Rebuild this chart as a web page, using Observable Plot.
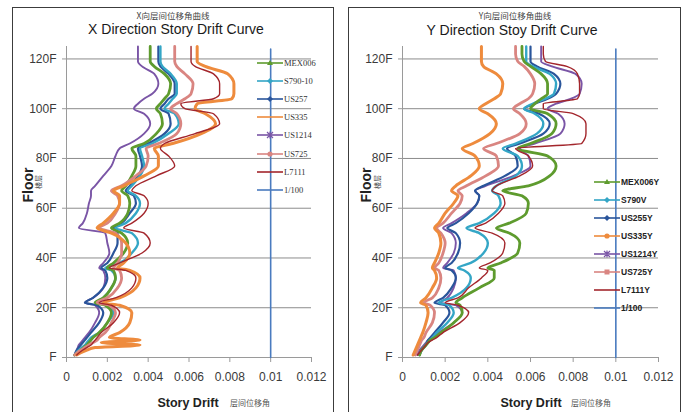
<!DOCTYPE html>
<html>
<head>
<meta charset="utf-8">
<script src="https://cdn.jsdelivr.net/npm/d3@7"></script>
<script src="https://cdn.jsdelivr.net/npm/@observablehq/plot@0.6"></script>
<style>
  body { margin: 0; background: #fff; }
  #root { position: relative; width: 686px; height: 412px; overflow: hidden; background: #fff;
          font-family: "Liberation Sans", Arial, sans-serif; color: #222; }
  .panel { position: absolute; top: 7px; height: 430px; border: 1.5px solid #3c3c3c; box-sizing: border-box; }
  .t { position: absolute; white-space: nowrap; line-height: 1; }
  .plotsvg { position: absolute; top: 0; }
</style>
</head>
<body>
<div id="root"></div>
<script>
// ---------------- data ----------------
const floors = [1,3,4,5,6,7,8,10,14,18,21,22,24,28,32,35,36,38,42,46,50,52,54,58,62,65,67,69,73,77,81,84,86,90,94,98,100,102,104,106,110,114,117,119,122,125];

const driftTicks = [0, 0.002, 0.004, 0.006, 0.008, 0.01, 0.012];
const driftTickLabels = ["0", "0.002", "0.004", "0.006", "0.008", "0.01", "0.012"];
const floorTicks = [0, 20, 40, 60, 80, 100, 120];
const floorTickLabels = ["F", "20F", "40F", "60F", "80F", "100F", "120F"];

const limitFloors = [0, 124];
const limitDrift = [0.01, 0.01];

// X direction
const xNames = ["MEX006", "S790-10", "US257", "US335", "US1214", "US725", "L7111"];
const xMEX006 = [0.0004,0.0007,0.00085,0.0010,0.0011,0.0012,0.0013,0.0016,0.0020,0.0022,0.0019,0.0014,0.0018,0.0022,0.0024,0.0023,0.0020,0.0023,0.0028,0.0030,0.0027,0.0022,0.0026,0.0030,0.0031,0.0030,0.0027,0.0029,0.0032,0.0034,0.0034,0.0032,0.0038,0.0044,0.0047,0.0046,0.0044,0.0046,0.0048,0.0050,0.0051,0.0048,0.0043,0.0041,0.0041,0.0041];
const xS79010 = [0.0004,0.0006,0.00075,0.0009,0.0010,0.0011,0.0012,0.0016,0.0020,0.0023,0.0020,0.0015,0.0018,0.0022,0.0024,0.0022,0.0019,0.0026,0.0032,0.0035,0.0032,0.0024,0.0029,0.0034,0.0036,0.0034,0.0030,0.0032,0.0036,0.0038,0.0037,0.0036,0.0042,0.0050,0.0055,0.0053,0.0048,0.0050,0.0052,0.0054,0.0054,0.0051,0.0047,0.0046,0.0046,0.0046];
const xUS257 = [0.0004,0.0005,0.0006,0.0007,0.0008,0.0009,0.0010,0.0012,0.0016,0.0018,0.0015,0.0009,0.0013,0.0018,0.0020,0.0019,0.0017,0.0020,0.0023,0.0025,0.0025,0.0023,0.0027,0.0031,0.0034,0.0033,0.0029,0.0031,0.0035,0.0037,0.0036,0.0035,0.0040,0.0048,0.0051,0.0050,0.0046,0.0048,0.0050,0.0053,0.0053,0.0050,0.0046,0.0045,0.0045,0.0045];
const xUS335 = [0.0005,0.0010,0.0014,0.0036,0.0017,0.0036,0.0021,0.0026,0.0031,0.0032,0.0026,0.0018,0.0026,0.0034,0.0036,0.0031,0.0025,0.0028,0.0031,0.0029,0.0022,0.0015,0.0018,0.0023,0.0026,0.0026,0.0023,0.0028,0.0038,0.0045,0.0045,0.0043,0.0052,0.0066,0.0073,0.0068,0.0063,0.0064,0.0081,0.0082,0.0082,0.0079,0.0068,0.0064,0.0064,0.0064];
const xUS1214 = [0.0004,0.0005,0.00055,0.0006,0.0007,0.0008,0.0009,0.0011,0.0014,0.0016,0.0014,0.0009,0.0013,0.0018,0.0019,0.0018,0.0016,0.0018,0.0021,0.0020,0.0019,0.0006,0.0008,0.0010,0.0011,0.0012,0.0012,0.0014,0.0018,0.0022,0.0024,0.0026,0.0031,0.0038,0.0041,0.0038,0.0033,0.0035,0.0038,0.0042,0.0045,0.0043,0.0037,0.0035,0.0035,0.0035];
const xUS725 = [0.0004,0.0007,0.0009,0.0011,0.0013,0.0015,0.0016,0.0019,0.0022,0.0024,0.0021,0.0015,0.0020,0.0025,0.0027,0.0026,0.0023,0.0025,0.0027,0.0027,0.0024,0.0016,0.0020,0.0024,0.0026,0.0025,0.0022,0.0027,0.0034,0.0039,0.0040,0.0039,0.0045,0.0054,0.0056,0.0054,0.0051,0.0054,0.0058,0.0061,0.0062,0.0058,0.0054,0.0053,0.0053,0.0053];
const xL7111 = [0.0005,0.0008,0.0010,0.0012,0.0013,0.0014,0.0015,0.0017,0.0023,0.0026,0.0022,0.0016,0.0024,0.0032,0.0034,0.0029,0.0021,0.0026,0.0037,0.0041,0.0038,0.0028,0.0032,0.0038,0.0040,0.0038,0.0032,0.0034,0.0044,0.0053,0.0050,0.0046,0.0048,0.0063,0.0075,0.0072,0.0058,0.0056,0.0072,0.0075,0.0075,0.0072,0.0063,0.0061,0.0061,0.0061];

// Y direction
const yNames = ["MEX006Y", "S790V", "US255Y", "US335Y", "US1214Y", "US725Y", "L7111Y"];
const yMEX006Y = [0.0008,0.0009,0.0010,0.0011,0.0012,0.0013,0.0015,0.0018,0.0024,0.0028,0.0027,0.0025,0.0028,0.0036,0.0043,0.0043,0.0040,0.0046,0.0054,0.0055,0.0050,0.0044,0.0050,0.0058,0.0059,0.0056,0.0047,0.0059,0.0069,0.0072,0.0068,0.0054,0.0060,0.0070,0.0072,0.0068,0.0060,0.0062,0.0065,0.0068,0.0068,0.0065,0.0060,0.0057,0.0056,0.0056];
const yS790V = [0.0008,0.0009,0.0010,0.0011,0.0012,0.0013,0.0014,0.0016,0.0021,0.0024,0.0022,0.0017,0.0023,0.0030,0.0032,0.0029,0.0026,0.0032,0.0038,0.0040,0.0036,0.0030,0.0036,0.0043,0.0046,0.0045,0.0042,0.0044,0.0053,0.0056,0.0054,0.0047,0.0053,0.0063,0.0066,0.0062,0.0057,0.0061,0.0067,0.0071,0.0072,0.0069,0.0061,0.0058,0.0058,0.0058];
const yUS255Y = [0.0008,0.0009,0.0010,0.0011,0.00115,0.0012,0.0013,0.0015,0.0019,0.0022,0.0020,0.0015,0.0019,0.0023,0.0025,0.0023,0.0020,0.0023,0.0026,0.0027,0.0025,0.0021,0.0025,0.0031,0.0035,0.0036,0.0034,0.0038,0.0048,0.0054,0.0053,0.0049,0.0055,0.0066,0.0069,0.0064,0.0057,0.0062,0.0068,0.0072,0.0074,0.0071,0.0063,0.0060,0.0060,0.0060];
const yUS335Y = [0.0005,0.0006,0.00065,0.0007,0.00075,0.0008,0.00085,0.00095,0.0011,0.0012,0.0011,0.00085,0.0011,0.0014,0.0016,0.0015,0.0014,0.0015,0.0017,0.0018,0.0017,0.0015,0.0017,0.0020,0.0024,0.0026,0.0023,0.0025,0.0032,0.0036,0.0034,0.0028,0.0033,0.0041,0.0044,0.0040,0.0036,0.0039,0.0043,0.0046,0.0047,0.0044,0.0038,0.0037,0.0037,0.0037];
const yUS1214Y = [0.0007,0.0008,0.0009,0.0010,0.0011,0.0012,0.0014,0.0017,0.0024,0.0028,0.0025,0.0018,0.0021,0.0024,0.0025,0.0024,0.0019,0.0021,0.0024,0.0025,0.0023,0.0019,0.0023,0.0030,0.0035,0.0036,0.0034,0.0039,0.0052,0.0060,0.0059,0.0055,0.0062,0.0074,0.0076,0.0073,0.0068,0.0072,0.0079,0.0083,0.0084,0.0081,0.0070,0.0065,0.0065,0.0065];
const yUS725Y = [0.0006,0.0007,0.00075,0.0008,0.00085,0.0009,0.0010,0.0011,0.0014,0.0015,0.0013,0.0010,0.0014,0.0017,0.0018,0.0017,0.0015,0.0017,0.0019,0.0020,0.0018,0.0016,0.0019,0.0023,0.0027,0.0028,0.0026,0.0030,0.0039,0.0045,0.0044,0.0038,0.0044,0.0055,0.0058,0.0055,0.0052,0.0055,0.0059,0.0061,0.0062,0.0060,0.0057,0.0054,0.0053,0.0053];
const yL7111Y = [0.0007,0.0009,0.0010,0.0011,0.0012,0.0014,0.0016,0.0019,0.0027,0.0031,0.0026,0.0020,0.0026,0.0031,0.0037,0.0040,0.0036,0.0041,0.0047,0.0048,0.0042,0.0034,0.0039,0.0045,0.0048,0.0047,0.0042,0.0044,0.0055,0.0061,0.0059,0.0053,0.0084,0.0086,0.0086,0.0080,0.0066,0.0066,0.0082,0.0083,0.0083,0.0082,0.0077,0.0067,0.0066,0.0066];

const xValues = [xMEX006, xS79010, xUS257, xUS335, xUS1214, xUS725, xL7111];
const yValues = [yMEX006Y, yS790V, yUS255Y, yUS335Y, yUS1214Y, yUS725Y, yL7111Y];
const limitName = "1/100";

// ---------------- styles ----------------
const seriesColors = ["#5e9b2e", "#34a6c6", "#2a559b", "#ee8b3d", "#7a55a6", "#d98581", "#a3262c"];
const seriesWidths = [2.8, 2.4, 2.2, 3.0, 1.9, 2.8, 1.4];
const limitColor = "#4a7bbf";
const drawOrder = [4, 2, 1, 0, 5, 3, 6];
const FONT = "'Liberation Sans', Arial, sans-serif";

const root = document.getElementById("root");

function rowsOf(name, values) {
  return floors.map((f, i) => ({ series: name, floor: f, drift: values[i] }));
}

function makePanel(values, names, left, marginLeft, marginRight) {
  const lines = drawOrder.map(k => Plot.line(rowsOf(names[k], values[k]), {
    x: "drift", y: "floor", stroke: seriesColors[k], strokeWidth: seriesWidths[k],
    curve: "monotone-y", strokeLinejoin: "round", strokeLinecap: "round"
  }));
  const limitRows = limitFloors.map((f, i) => ({ series: limitName, floor: f, drift: limitDrift[i] }));
  const svg = Plot.plot({
    width: 343, height: 412,
    marginLeft, marginRight, marginTop: 46, marginBottom: 55,
    x: { domain: [0, 0.012] },
    y: { domain: [0, 125] },
    style: { background: "transparent", fontFamily: FONT, fontSize: "12px", color: "#3a3a3a" },
    marks: [
      Plot.gridY(floorTicks.filter(d => d > 0), { stroke: "#8c8c8c", strokeOpacity: 1, strokeWidth: 1 }),
      Plot.ruleX([0], { stroke: "#9a9a9a" }),
      Plot.ruleY([0], { stroke: "#9a9a9a" }),
      Plot.axisY(floorTicks, { tickSize: 4, tickPadding: 6, label: null, stroke: "#9a9a9a",
        tickFormat: d => floorTickLabels[floorTicks.indexOf(d)] }),
      Plot.axisX(driftTicks, { tickSize: 5, tickPadding: 10, label: null, stroke: "#9a9a9a",
        tickFormat: d => driftTickLabels[driftTicks.indexOf(d)] }),
      ...lines,
      Plot.line(limitRows, { x: "drift", y: "floor", stroke: limitColor, strokeWidth: 1.6 })
    ]
  });
  svg.classList.add("plotsvg");
  svg.style.left = left + "px";
  return svg;
}

function addText(txt, x, y, css, rotate) {
  const d = document.createElement("div");
  d.className = "t";
  d.textContent = txt;
  Object.assign(d.style, css);
  d.style.left = x + "px";
  d.style.top = y + "px";
  d.style.transform = "translate(-50%,-50%)" + (rotate ? " rotate(-90deg)" : "");
  root.appendChild(d);
  return d;
}

function addLegend(names, colors, x0, y0, step, textCss, markers) {
  names.forEach((name, i) => {
    const y = y0 + i * step;
    const ns = "http://www.w3.org/2000/svg";
    const s = document.createElementNS(ns, "svg");
    s.setAttribute("width", 28); s.setAttribute("height", 10);
    s.style.position = "absolute"; s.style.left = x0 + "px"; s.style.top = (y - 5) + "px";
    const c = colors[i];
    const ln = document.createElementNS(ns, "line");
    ln.setAttribute("x1", 1); ln.setAttribute("x2", 27); ln.setAttribute("y1", 5); ln.setAttribute("y2", 5);
    ln.setAttribute("stroke", c); ln.setAttribute("stroke-width", 1.6);
    s.appendChild(ln);
    const m = markers[i];
    let mk = null;
    if (m === "tri") { mk = document.createElementNS(ns, "path"); mk.setAttribute("d", "M14,2 L17,7 L11,7 Z"); }
    else if (m === "dia") { mk = document.createElementNS(ns, "path"); mk.setAttribute("d", "M14,2 L17,5 L14,8 L11,5 Z"); }
    else if (m === "circ") { mk = document.createElementNS(ns, "circle"); mk.setAttribute("cx", 14); mk.setAttribute("cy", 5); mk.setAttribute("r", 2.6); }
    else if (m === "sq") { mk = document.createElementNS(ns, "rect"); mk.setAttribute("x", 11.5); mk.setAttribute("y", 2.5); mk.setAttribute("width", 5); mk.setAttribute("height", 5); }
    else if (m === "x") { mk = document.createElementNS(ns, "path"); mk.setAttribute("d", "M11,2 L17,8 M17,2 L11,8 M14,1.5 L14,8.5"); mk.setAttribute("stroke", c); mk.setAttribute("stroke-width", 1.2); }
    if (mk) { mk.setAttribute("fill", c); s.appendChild(mk); }
    root.appendChild(s);
    const t = document.createElement("div");
    t.className = "t";
    t.textContent = name;
    Object.assign(t.style, textCss);
    t.style.left = (x0 + 28) + "px";
    t.style.top = y + "px";
    t.style.transform = "translateY(-50%)";
    root.appendChild(t);
  });
}

// panel frames
const p1 = document.createElement("div"); p1.className = "panel";
p1.style.left = "12px"; p1.style.width = "322px"; root.appendChild(p1);
const p2 = document.createElement("div"); p2.className = "panel";
p2.style.left = "348px"; p2.style.width = "333px"; root.appendChild(p2);

// plots
root.appendChild(makePanel(xValues, xNames, 0, 66, 32));
root.appendChild(makePanel(yValues, yNames, 343, 59, 28));

// titles
const cjk = "'Noto Sans CJK SC', sans-serif";
addText("X向层间位移角曲线", 173, 15, { fontFamily: cjk, fontSize: "8.5px", color: "#444" });
addText("X Direction Story Drift Curve", 176, 29, { fontFamily: FONT, fontSize: "14px", color: "#1a1a1a" });
addText("Y向层间位移角曲线", 515, 15, { fontFamily: cjk, fontSize: "8.5px", color: "#444" });
addText("Y Direction Stoy Drift Curve", 512, 30, { fontFamily: FONT, fontSize: "14px", color: "#1a1a1a" });

// axis titles
addText("Floor", 28, 185, { fontFamily: FONT, fontSize: "14px", fontWeight: "bold", color: "#222" }, true);
addText("楼层", 38, 182, { fontFamily: cjk, fontSize: "7px", color: "#444" }, true);
addText("Floor", 366, 185, { fontFamily: FONT, fontSize: "14px", fontWeight: "bold", color: "#222" }, true);
addText("楼层", 377, 182, { fontFamily: cjk, fontSize: "7px", color: "#444" }, true);

addText("Story Drift", 188, 403, { fontFamily: FONT, fontSize: "12.5px", fontWeight: "bold", color: "#222" });
addText("层间位移角", 250, 403, { fontFamily: cjk, fontSize: "8px", color: "#555" });
addText("Story Drift", 531, 403, { fontFamily: FONT, fontSize: "12.5px", fontWeight: "bold", color: "#222" });
addText("层间位移角", 591, 403, { fontFamily: cjk, fontSize: "8px", color: "#555" });

// legends
const legendColors = seriesColors.concat([limitColor]);
addLegend(xNames.concat([limitName]), legendColors, 256, 63, 18.1,
  { fontFamily: "'Liberation Serif', serif", fontSize: "8.5px", color: "#333" },
  ["tri", "dia", "dia", "none", "x", "circ", "none", "none"]);
addLegend(yNames.concat([limitName]), legendColors, 593, 182, 18.0,
  { fontFamily: FONT, fontSize: "8.5px", fontWeight: "bold", color: "#222" },
  ["tri", "dia", "dia", "circ", "x", "sq", "none", "none"]);
</script>
</body>
</html>
